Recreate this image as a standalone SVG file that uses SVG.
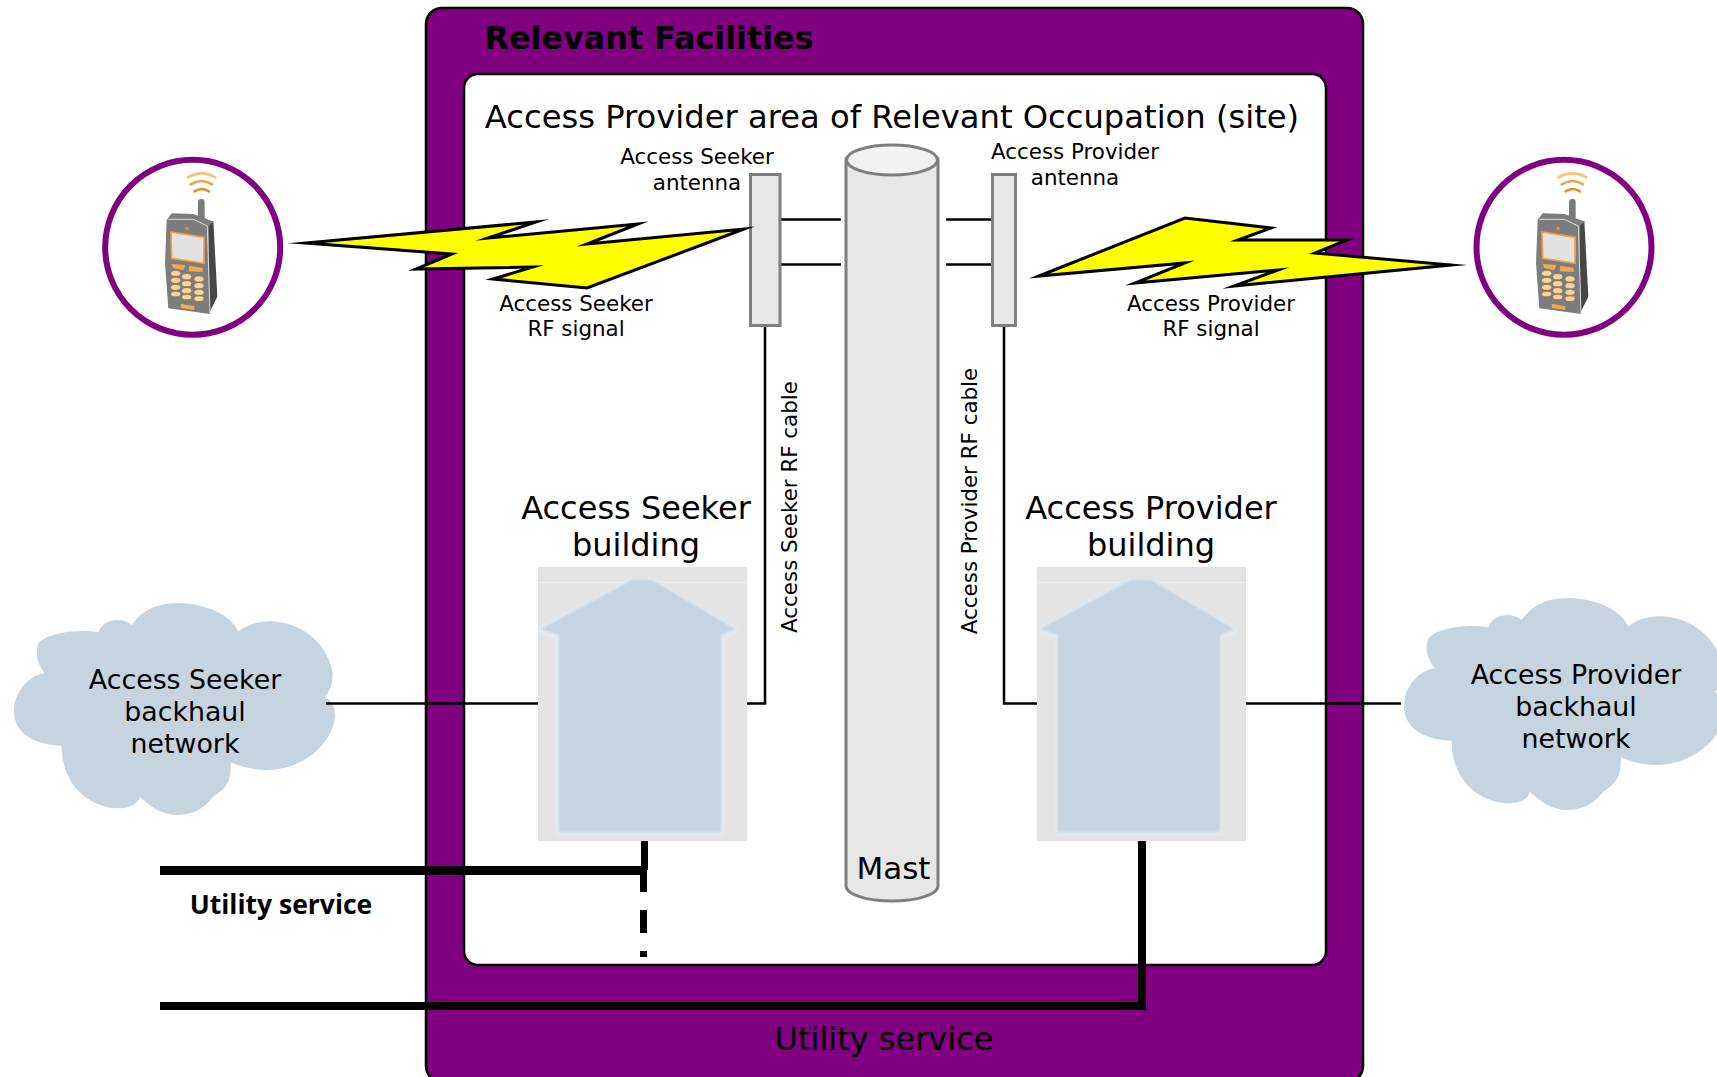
<svg xmlns="http://www.w3.org/2000/svg" xmlns:xlink="http://www.w3.org/1999/xlink" width="1717" height="1077" viewBox="0 0 1717 1077">
<style>
text{font-family:"DejaVu Sans",Verdana,sans-serif;fill:#000;text-anchor:middle}
.s{font-size:21.4px}.m{font-size:26.8px}.b{font-size:32px}
.thin{stroke:#000;stroke-width:2.5;fill:none}
.thick{stroke:#000;fill:none}
.bolt{fill:#ff0;stroke:#000;stroke-width:3;stroke-linejoin:miter;stroke-miterlimit:20}
.ant{fill:#e7e7e7;stroke:#7f7f7f;stroke-width:3}
.cloud{fill:#c6d4e0}
.ring{fill:#fff;stroke:#800080;stroke-width:6}
</style>
<defs>
<filter id="soft" x="-5%" y="-5%" width="110%" height="110%"><feGaussianBlur stdDeviation="1"/></filter>
<path id="cloud" class="cloud" transform="translate(0,580) scale(.33333)" d="M395,135 C430,85 480,68 535,70 C610,70 690,100 715,155 C745,130 790,120 830,125 C920,135 985,200 998,280 C998,310 990,335 975,350 C1000,365 1005,385 1005,410 C995,500 900,570 800,570 C760,570 720,560 692,547 C695,600 680,625 640,650 C610,690 570,705 530,705 C490,705 450,680 420,650 C410,680 380,685 350,685 C270,680 185,620 185,497 C120,495 40,470 42,390 C45,330 90,285 135,280 C110,250 105,220 115,190 C140,160 230,145 295,157 C310,115 365,110 395,135 Z"/>
<g id="house">
<rect x="0" y="0" width="209" height="274" fill="#e4e4e4"/>
<rect x="0" y="15" width="209" height="1" fill="#efefef"/>
<polygon points="0,61 2,68 18,72 18,268 186,268 186,72 200,66 200,61 118,12 90,12" fill="#e2eaef" filter="url(#soft)"/>
<polygon points="3,62 21,68 21,265 183,265 183,68 197,62 114,13 94,13" fill="#c6d4df" filter="url(#soft)"/>
</g>
<g id="phone" transform="scale(.33333)">
<g fill="none" stroke-linecap="round">
<path d="M383,142 Q425,118 466,142" stroke="#f9c27a" stroke-width="8"/>
<path d="M392,163 Q425,143 456,163" stroke="#f2a040" stroke-width="8"/>
<path d="M404,184 Q425,170 447,184" stroke="#ea8a1e" stroke-width="8"/>
</g>
<rect x="414" y="207" width="20" height="66" rx="9" fill="#7a7a7a"/>
<path d="M445,285 L460,272 L472,500 L446,552 Z" fill="#474747"/>
<path d="M315,400 L320,270 L335,250 L400,252 L462,275 L445,288 L450,552 L325,535 Z" fill="#7d7d7d"/>
<path d="M325,268 L400,268 L442,288 L450,552" fill="none" stroke="#ddd" stroke-width="3"/>
<circle cx="381" cy="295" r="5" fill="#e8913a"/>
<polygon points="333,306 432,322 432,400 335,385" fill="#e2e2e2" stroke="#f0a040" stroke-width="5"/>
<polygon points="335,402 376,405 370,421 340,414" fill="#f4a94f"/>
<polygon points="388,407 428,414 428,426 386,424" fill="#f4a94f"/>
<g fill="#fcd390">
<ellipse cx="347" cy="430" rx="14" ry="8"/><ellipse cx="380" cy="440" rx="14" ry="8"/><ellipse cx="417" cy="447" rx="14" ry="8"/>
<ellipse cx="347" cy="451" rx="14" ry="8"/><ellipse cx="380" cy="461" rx="14" ry="8"/><ellipse cx="417" cy="467" rx="14" ry="8"/>
<ellipse cx="347" cy="472" rx="14" ry="8"/><ellipse cx="380" cy="482" rx="14" ry="8"/><ellipse cx="417" cy="487" rx="14" ry="8"/>
<ellipse cx="347" cy="492" rx="14" ry="7"/><ellipse cx="380" cy="501" rx="14" ry="7"/><ellipse cx="417" cy="506" rx="14" ry="7"/>
</g>
<polygon points="362,521 404,529 402,540 362,533" fill="#f4a94f"/>
</g>
</defs>

<g id="relevant-facilities">
<rect x="426" y="8" width="937" height="1074" rx="16" fill="#800080" stroke="#000" stroke-width="2.5"/>
<text x="649" y="49" font-size="31.800" font-weight="bold">Relevant Facilities</text>
</g>
<g id="site">
<rect x="464" y="74" width="862" height="891" rx="14" fill="#fff" stroke="#000" stroke-width="2.5"/>
<text x="892" y="128" font-size="32.200">Access Provider area of Relevant Occupation (site)</text>
</g>

<g id="seeker-cloud"><use xlink:href="#cloud" href="#cloud"/>
<text x="185" y="689" class="m">Access Seeker</text><text x="185" y="721" class="m">backhaul</text><text x="185" y="753" class="m">network</text></g>
<g id="provider-cloud"><use xlink:href="#cloud" href="#cloud" transform="translate(1390,-5)"/>
<text x="1576" y="684" class="m">Access Provider</text><text x="1576" y="716" class="m">backhaul</text><text x="1576" y="748" class="m">network</text></g>

<g id="connectors">
<path class="thin" d="M326,703.500H538"/>
<path class="thin" d="M765,326V703.500H745"/>
<path class="thin" d="M1004,326V703.500H1039"/>
<path class="thin" d="M1244,703.500H1401"/>
<path class="thin" d="M780,219.500H841M780,264.500H841M946,219.500H992M946,264.500H992"/>
<path class="thick" stroke-width="9" d="M160,870.500H645"/>
<path class="thick" stroke-width="7" d="M644.500,839V870"/>
<path class="thick" stroke-width="7" stroke-dasharray="22 18 23 18 6 30" d="M643.500,870V958"/>
<path class="thick" stroke-width="8" d="M160,1006H1142V841"/>
</g>

<g id="seeker-building"><use xlink:href="#house" href="#house" x="538" y="567"/>
<text x="636" y="519" class="b">Access Seeker</text><text x="636" y="556" class="b">building</text></g>
<g id="provider-building"><use xlink:href="#house" href="#house" x="1037" y="567"/>
<text x="1151" y="519" class="b">Access Provider</text><text x="1151" y="556" class="b">building</text></g>

<g id="mast">
<path d="M846,159V886A46,15 0 0 0 938,886V159Z" fill="#e7e7e7" stroke="#7f7f7f" stroke-width="3"/>
<ellipse cx="892" cy="160" rx="45.500" ry="15" fill="#f2f2f2" stroke="#7f7f7f" stroke-width="3"/>
<text x="893.500" y="879" font-size="31">Mast</text>
</g>

<g id="seeker-antenna"><rect class="ant" x="750.500" y="174.500" width="29.500" height="151"/>
<text x="697" y="164" class="s">Access Seeker</text><text x="697" y="190" class="s">antenna</text></g>
<g id="provider-antenna"><rect class="ant" x="992.500" y="174.500" width="23" height="151"/>
<text x="1075" y="159" class="s">Access Provider</text><text x="1075" y="185" class="s">antenna</text></g>

<g id="seeker-signal"><polygon class="bolt" points="306,243 536,222 488,238 638,224 587,244 744,229 587,288 493,279 533,267 416,269 452,254"/>
<text x="576" y="311" class="s">Access Seeker</text><text x="576" y="336" class="s">RF signal</text></g>
<g id="provider-signal"><polygon class="bolt" points="1039,276 1185,218 1271,228 1238,240 1347,240 1315,253 1451,265 1234,286 1278,270 1135,283 1185,263"/>
<text x="1211" y="311" class="s">Access Provider</text><text x="1211" y="336" class="s">RF signal</text></g>

<g id="seeker-cable-label"><text transform="translate(797,507) rotate(-90)" class="s">Access Seeker RF cable</text></g>
<g id="provider-cable-label"><text transform="translate(977,501) rotate(-90)" class="s">Access Provider RF cable</text></g>

<g id="seeker-phone"><circle class="ring" cx="192.700" cy="247.300" r="87.500"/><use xlink:href="#phone" href="#phone" transform="translate(60,130)"/></g>
<g id="provider-phone"><circle class="ring" cx="1564" cy="247.300" r="87.500"/><use xlink:href="#phone" href="#phone" transform="translate(1431,130)"/></g>

<g id="labels">
<text x="281" y="914" font-size="26.500" font-weight="bold" style="font-family:'Open Sans','Liberation Sans',sans-serif">Utility service</text>
<text x="884" y="1050" font-size="32">Utility service</text>
</g>
</svg>
